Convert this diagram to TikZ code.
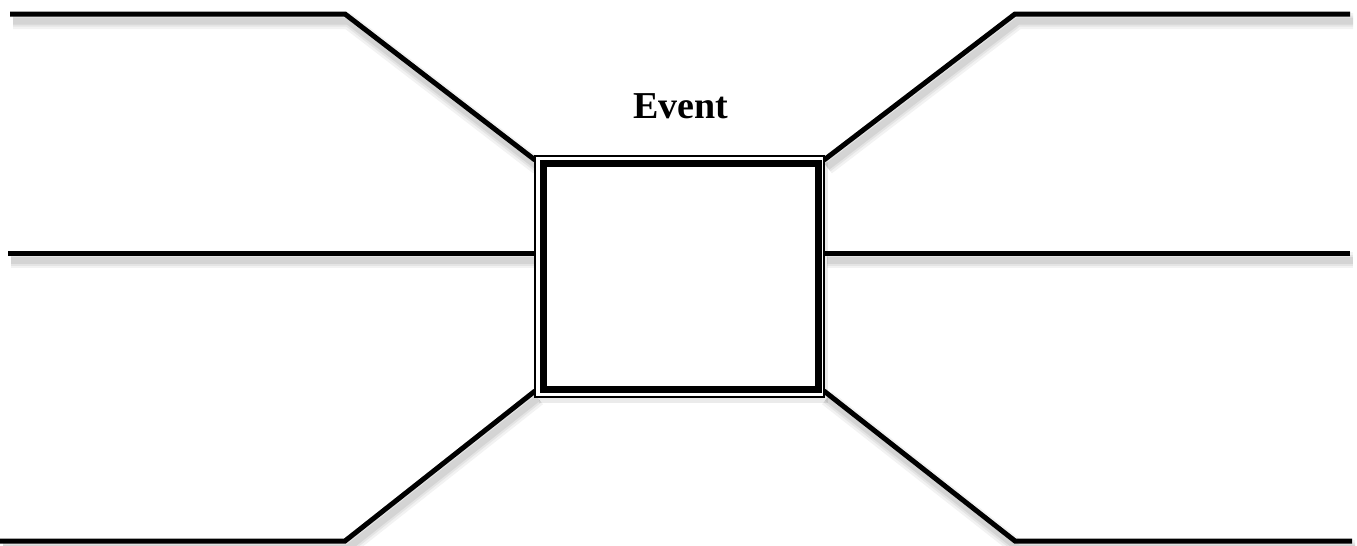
\documentclass[tikz,border=0pt]{standalone}
\usepackage{fontspec}
\setmainfont{Liberation Serif}
\begin{document}
\begin{tikzpicture}[x=1pt,y=-1pt,
  shd/.style={
    preaction={draw=black,opacity=0.05,line width=16pt,line join=round,transform canvas={shift={(3pt,-7pt)}}},
    preaction={draw=black,opacity=0.06,line width=11pt,line join=round,transform canvas={shift={(3pt,-7pt)}}},
    preaction={draw=black,opacity=0.07,line width=7pt,line join=round,transform canvas={shift={(3pt,-7pt)}}}},
  conn/.style={shd,draw=black,line width=5pt,line join=miter},
  outerbox/.style={draw=black,line width=1.5pt,fill=white,minimum width=289pt,minimum height=241pt,inner sep=0pt,
    preaction={fill=black,opacity=0.08,transform canvas={shift={(4pt,-6pt)}}}},
  innerbox/.style={draw=black,line width=7pt},
  lbl/.style={font=\bfseries\fontsize{38}{40}\selectfont,inner sep=0pt}
]
\useasboundingbox (0,0) rectangle (1357,546);
% endpoints
\coordinate (lt0) at (10,14);   \coordinate (lt1) at (345,14);
\coordinate (lm0) at (8,253);
\coordinate (lb0) at (0,541);   \coordinate (lb1) at (345,541);
\coordinate (rt0) at (1350,14); \coordinate (rt1) at (1015,14);
\coordinate (rm0) at (1350,253);
\coordinate (rb0) at (1352,541);\coordinate (rb1) at (1015,541);
% connectors
\draw[conn] (lt0) -- (lt1) -- (535,160) coordinate (blt);
\draw[conn] (lm0) -- (535,253) coordinate (blm);
\draw[conn] (lb0) -- (lb1) -- (535,391) coordinate (blb);
\draw[conn] (rt0) -- (rt1) -- (824,160) coordinate (brt);
\draw[conn] (rm0) -- (824,253) coordinate (brm);
\draw[conn] (rb0) -- (rb1) -- (824,391) coordinate (brb);
% box
\node[outerbox] (box) at (679.5,276.5) {};
\draw[innerbox] ([shift={(9.5,8.5)}]box.north west) rectangle ([shift={(-6.5,-8.5)}]box.south east);
% label
\node[lbl] (event) at (680.5,106) {Event};
\end{tikzpicture}
\end{document}
